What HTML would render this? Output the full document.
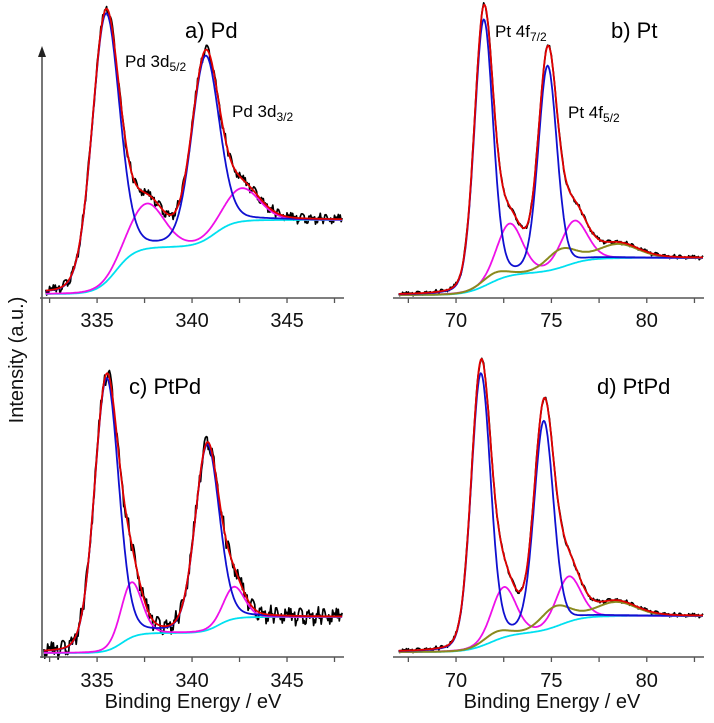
<!DOCTYPE html>
<html><head><meta charset="utf-8"><style>
html,body{margin:0;padding:0;background:#fff;}
svg{display:block;font-family:"Liberation Sans",sans-serif;}
</style></head><body>
<svg id="chart" width="714" height="723" viewBox="0 0 714 723" xmlns="http://www.w3.org/2000/svg">
<g id="plots"></g>
<g id="axes"></g>
<text x="0" y="0" transform="translate(23,360) rotate(-90)" text-anchor="middle" font-size="20" fill="#111">Intensity (a.u.)</text>
<text x="185" y="38" font-size="22">a) Pd</text>
<text x="611" y="38" font-size="22">b) Pt</text>
<text x="129" y="394" font-size="22">c) PtPd</text>
<text x="597" y="394" font-size="22">d) PtPd</text>
<text x="125" y="67" font-size="17">Pd 3d<tspan font-size="12" dy="4">5/2</tspan></text>
<text x="232" y="117" font-size="17">Pd 3d<tspan font-size="12" dy="4">3/2</tspan></text>
<text x="495" y="37" font-size="17">Pt 4f<tspan font-size="12" dy="4">7/2</tspan></text>
<text x="568" y="118" font-size="17">Pt 4f<tspan font-size="12" dy="4">5/2</tspan></text>
<text x="193" y="708" text-anchor="middle" font-size="20" fill="#111">Binding Energy / eV</text>
<text x="552" y="708" text-anchor="middle" font-size="20" fill="#111">Binding Energy / eV</text>
</svg>
<script>
// ---- data ----
const aMainPos=[335.45,340.7], aMainH=[268,183], aMainW=[1.7,1.7];
const aSatPos=[337.6,342.6], aSatH=[45,33], aSatW=[2.2,2.2];
const aBgPos=[336.0,341.2], aBgH=[47,27];
const bMainPos=[71.45,74.8], bMainH=[266,204], bMainW=[1.15,1.15];
const bSatPos=[72.8,76.2], bSatH=[52,42], bSatW=[1.6,1.6];
const bOlPos=[72.0,75.5,78.5], bOlH=[8,18,14], bOlW=[1.6,1.8,2.5];
const bBgPos=[71.7,75.8], bBgH=[22,15];
const cMainPos=[335.5,340.8], cMainH=[272,185], cMainW=[1.5,1.5];
const cSatPos=[336.8,342.2], cSatH=[55,32], cSatW=[1.3,1.3];
const cBgPos=[336.3,341.4], cBgH=[20,16];
const dMainPos=[71.3,74.6], dMainH=[272,208], dMainW=[1.2,1.2];
const dSatPos=[72.5,75.9], dSatH=[50,45], dSatW=[1.5,1.5];
const dOlPos=[72.1,75.2,78.4], dOlH=[8,20,14], dOlW=[1.6,1.8,2.5];
const dBgPos=[71.8,75.5], dBgH=[19,17];
const noise=[0.3,-0.8,0.9,-0.2,0.6,-1,0.1,0.7,-0.5,0.95,-0.7,0.2,-0.3,0.8,-0.9,0.4,0.05,-0.6,1,-0.4,0.55,-0.15,-0.85,0.65,0.25,-0.55,0.75,-0.05,-0.95,0.45,0.15,-0.35,0.85,-0.75,0.35,-0.25,0.5,-0.65,0.9,-0.1,0.6,-0.45,-0.8,0.7,0.2,-0.9,0.4,-0.2,0.8,-0.6];
const leftTicks=[335,340,345], rightTicks=[70,75,80];

const NS='http://www.w3.org/2000/svg';
function pv(x,c,w){const d=(x-c)/w;return 0.85*Math.exp(-4*Math.LN2*d*d)+0.15/(1+4*d*d);}
function sig(x,c,s){return 1/(1+Math.exp(-(x-c)/s));}
const panels=[
 {id:'a',x0:332.1,x1:348,px0:42,px1:344,yb:294,mp:aMainPos,mh:aMainH,mw:aMainW,sp:aSatPos,sh:aSatH,sw:aSatW,op:[],oh:[],ow:[],bp:aBgPos,bh:aBgH,bs:0.5,nz:7,xs:332.3,axY:298,ticks:leftTicks,lab:320},
 {id:'b',x0:66.8,x1:83,px0:395,px1:704,yb:295,mp:bMainPos,mh:bMainH,mw:bMainW,sp:bSatPos,sh:bSatH,sw:bSatW,op:bOlPos,oh:bOlH,ow:bOlW,bp:bBgPos,bh:bBgH,bs:0.6,nz:2.8,xs:67,axY:298,ticks:rightTicks,lab:320},
 {id:'c',x0:332.1,x1:348,px0:42,px1:344,yb:653,mp:cMainPos,mh:cMainH,mw:cMainW,sp:cSatPos,sh:cSatH,sw:cSatW,op:[],oh:[],ow:[],bp:cBgPos,bh:cBgH,bs:0.4,nz:12,xs:332.2,axY:657,ticks:leftTicks,lab:680},
 {id:'d',x0:66.8,x1:83,px0:395,px1:704,yb:652,mp:dMainPos,mh:dMainH,mw:dMainW,sp:dSatPos,sh:dSatH,sw:dSatW,op:dOlPos,oh:dOlH,ow:dOlW,bp:dBgPos,bh:dBgH,bs:0.6,nz:2.8,xs:67,axY:657,ticks:rightTicks,lab:680}
];
const plots=document.getElementById('plots'), axes=document.getElementById('axes');
function mk(tag,attrs,parent){const e=document.createElementNS(NS,tag);for(const k in attrs)e.setAttribute(k,attrs[k]);parent.appendChild(e);return e;}
panels.forEach(P=>{
 const xS=v=>P.px0+(v-P.x0)/(P.x1-P.x0)*(P.px1-P.px0);
 const yS=v=>P.yb-v;
 const bg=x=>P.bp.reduce((s,c,i)=>s+P.bh[i]*sig(x,c,P.bs),0);
 const sum=(x,pos,h,w)=>pos.reduce((s,c,i)=>s+h[i]*pv(x,c,w[i]),0);
 const xs=[];for(let x=P.xs;x<=P.x1-0.05;x+=0.05)xs.push(x);
 const path=f=>xs.map((x,i)=>(i?'L':'M')+xS(x).toFixed(1)+','+yS(f(x,i)).toFixed(1)).join('');
 const g=mk('g',{},plots);
 
 
 const total=x=>bg(x)+sum(x,P.mp,P.mh,P.mw)+sum(x,P.sp,P.sh,P.sw)+sum(x,P.op,P.oh,P.ow);
 const series=[
  ['data',(x,i)=>total(x)+P.nz*(0.65*noise[(i*17)%noise.length]+0.35*noise[(i*7+3)%noise.length]),'#000',1.7],
  ['background',x=>bg(x),'#00e0f0',1.8],
  ['satellite-fit',x=>bg(x)+sum(x,P.sp,P.sh,P.sw),'#ee10e8',1.8],
 ];
 if(P.op.length)series.push(['oxide-fit',x=>bg(x)+sum(x,P.op,P.oh,P.ow),'#8a8a1e',2]);
 series.push(['main-peak-fit',x=>bg(x)+sum(x,P.mp,P.mh,P.mw),'#1010d0',1.8]);
 series.push(['envelope-fit',x=>total(x),'#e00000',1.8]);
 series.forEach(s=>{
  const p=mk('path',{d:path(s[1]),fill:'none',stroke:s[2],'stroke-width':s[3],'stroke-linejoin':'round'},g);
  
  
 });
 const ax=mk('line',{x1:P.px0-2,x2:P.px1,y1:P.axY,y2:P.axY,stroke:'#555','stroke-width':1.6},axes);
 
 
 const step=P.ticks[1]-P.ticks[0];
 for(let t=P.ticks[0]-step;t<=P.x1;t+=step/2){
  if(t<P.x0)continue;
  const tk=mk('line',{x1:xS(t),x2:xS(t),y1:P.axY,y2:P.axY+5,stroke:'#555','stroke-width':1.3},axes);
  
  
 }
 P.ticks.forEach(t=>{
  const tl=mk('text',{x:xS(t),y:P.lab+7,'text-anchor':'middle','font-size':20,fill:'#111'},axes);
  tl.textContent=t;
  
  
 });
});
const ya=mk('line',{x1:42,x2:42,y1:54,y2:658,stroke:'#555','stroke-width':1.6},axes);


const arr=mk('path',{d:'M42,46 L38,57 L46,57 Z',fill:'#222'},axes);


</script>
</body></html>
